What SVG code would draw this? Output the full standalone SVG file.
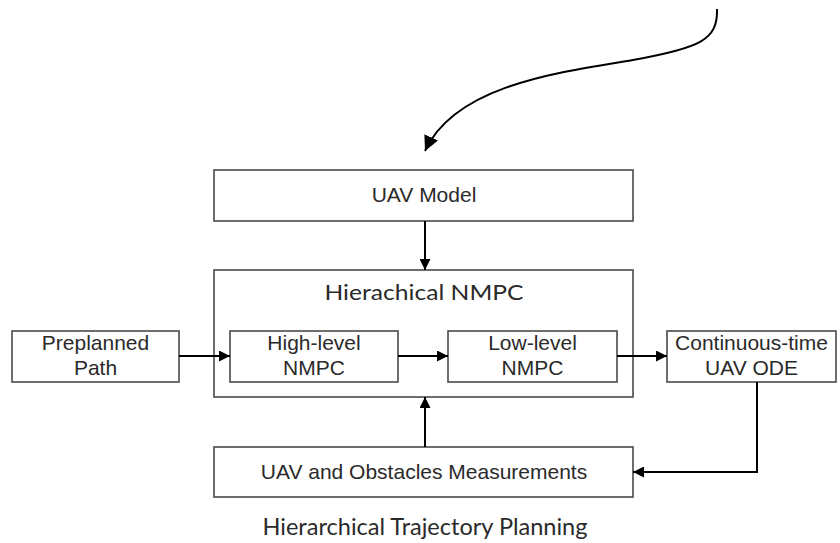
<svg xmlns="http://www.w3.org/2000/svg" width="840" height="543" viewBox="0 0 840 543">
  <defs>
    <marker id="arrow" viewBox="0 0 10 10" refX="10" refY="5" markerWidth="11" markerHeight="11" markerUnits="userSpaceOnUse" orient="auto">
      <path d="M0,0 L10,5 L0,10 z" fill="#000"/>
    </marker>
    <marker id="arrowBig" viewBox="0 0 10 10" refX="10" refY="5" markerWidth="15" markerHeight="15" markerUnits="userSpaceOnUse" orient="auto">
      <path d="M0,0 L10,5 L0,10 z" fill="#000"/>
    </marker>
  </defs>
  <style>
    .box { fill: #fff; stroke: #4a4a4a; stroke-width: 1.6; }
    .lbl { font-family: "Liberation Sans", Arial, sans-serif; font-size: 21px; fill: #2a2a2a; text-anchor: middle; }
    .title { font-family: Lato, "Open Sans", sans-serif; font-size: 21px; fill: #2a2a2a; text-anchor: middle; }
    .cap { font-family: Lato, "Open Sans", sans-serif; font-size: 24px; fill: #2a2a2a; text-anchor: middle; }
    .wire { fill: none; stroke: #000; stroke-width: 2; }
  </style>
  <rect width="840" height="543" fill="#fff"/>

  <g id="nmpc">
    <rect class="box" x="214" y="270" width="419" height="127"/>
    <text class="title" x="424" y="300" textLength="199" lengthAdjust="spacingAndGlyphs">Hierachical NMPC</text>
  </g>
  <g id="uav-model">
    <rect class="box" x="214" y="170" width="419" height="51"/>
    <text class="lbl" x="424" y="202">UAV Model</text>
  </g>
  <g id="preplanned">
    <rect class="box" x="12" y="331" width="167" height="51"/>
    <text class="lbl" x="95.5" y="350">Preplanned</text>
    <text class="lbl" x="95.5" y="375">Path</text>
  </g>
  <g id="high-level">
    <rect class="box" x="230" y="331" width="168" height="51"/>
    <text class="lbl" x="314" y="350">High-level</text>
    <text class="lbl" x="314" y="375">NMPC</text>
  </g>
  <g id="low-level">
    <rect class="box" x="448" y="331" width="169" height="51"/>
    <text class="lbl" x="532.5" y="350">Low-level</text>
    <text class="lbl" x="532.5" y="375">NMPC</text>
  </g>
  <g id="ode">
    <rect class="box" x="667" y="331" width="169" height="51"/>
    <text class="lbl" x="751.5" y="350">Continuous-time</text>
    <text class="lbl" x="751.5" y="375">UAV ODE</text>
  </g>
  <g id="measurements">
    <rect class="box" x="214" y="447" width="419" height="50"/>
    <text class="lbl" x="424" y="479">UAV and Obstacles Measurements</text>
  </g>

  <g id="connectors">
    <path class="wire" d="M717,9 C718,40 700,48 633,60 C560,72 455,85 425,151" marker-end="url(#arrowBig)"/>
    <path class="wire" d="M425,221 V270" marker-end="url(#arrow)"/>
    <path class="wire" d="M179,356 H230" marker-end="url(#arrow)"/>
    <path class="wire" d="M398,356 H448" marker-end="url(#arrow)"/>
    <path class="wire" d="M617,356 H667" marker-end="url(#arrow)"/>
    <path class="wire" d="M757,382 V472 H633" marker-end="url(#arrow)"/>
    <path class="wire" d="M425,447 V397" marker-end="url(#arrow)"/>
  </g>

  <text class="cap" x="425" y="535" textLength="325" lengthAdjust="spacingAndGlyphs">Hierarchical Trajectory Planning</text>
</svg>
